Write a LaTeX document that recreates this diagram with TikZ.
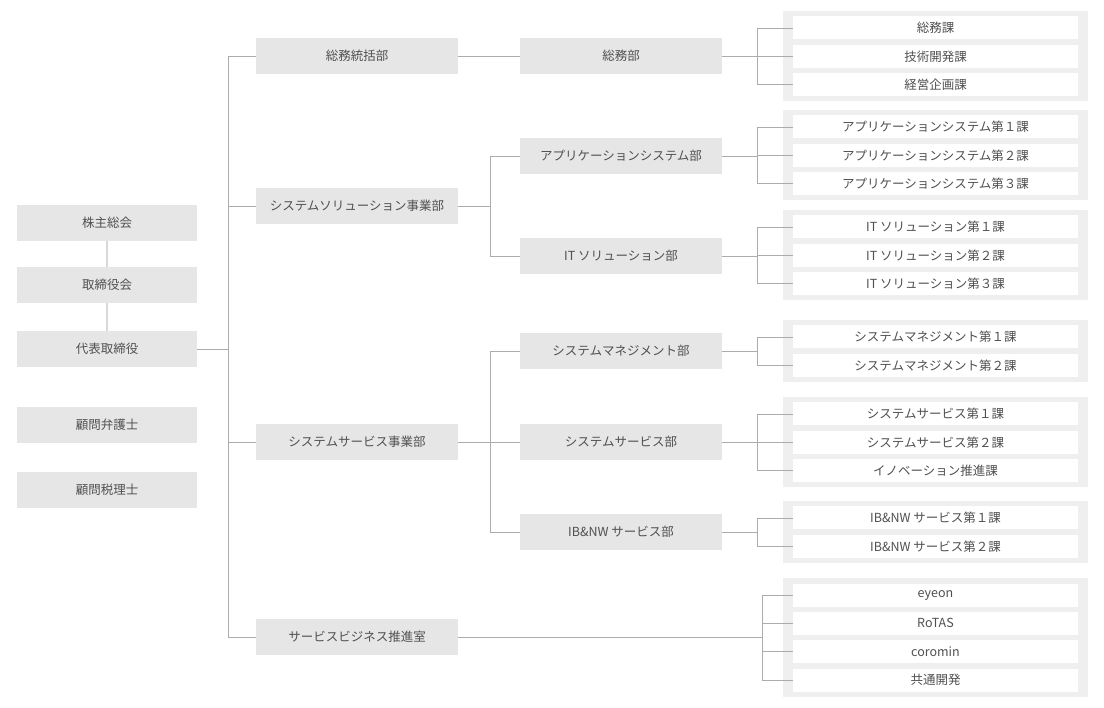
\documentclass[tikz,border=0pt]{standalone}
\usepackage{fontspec}
\setmainfont{Noto Sans CJK JP}
\usetikzlibrary{positioning,fit,backgrounds}
\definecolor{boxgray}{RGB}{230,230,230}
\definecolor{panelgray}{RGB}{239,239,239}
\definecolor{linegray}{RGB}{172,172,172}
\definecolor{stemgray}{RGB}{216,216,216}
\definecolor{textgray}{RGB}{80,80,80}
\newcommand{\orgfont}{\fontsize{12.5}{15}\selectfont}
\tikzset{
  topbox/.style={fill=boxgray,minimum width=180pt,minimum height=36pt,
    inner sep=0pt,text=textgray,font=\orgfont},
  deptbox/.style={topbox,minimum width=202pt},
  secbox/.style={fill=white,minimum width=285pt,minimum height=23pt,
    inner sep=0pt,text=textgray,font=\orgfont},
  secpanel/.style={fill=panelgray,inner xsep=10pt,inner ysep=5pt},
  orgline/.style={draw=linegray,line width=0.8pt},
  stemline/.style={draw=stemgray,line width=2pt},
}
\begin{document}
\begin{tikzpicture}[x=1pt,y=-1pt,node distance=5pt]
  \useasboundingbox (0,0) rectangle (1104,708);
  % top management
  \node[topbox] (agm) at (107,223) {株主総会};
  \node[topbox] (board) at (107,285) {取締役会};
  \node[topbox] (ceo) at (107,349) {代表取締役};
  \node[topbox] (lawyer) at (107,425) {顧問弁護士};
  \node[topbox] (taxadv) at (107,490) {顧問税理士};
  \draw[stemline] (agm) -- (board);
  \draw[stemline] (board) -- (ceo);

  % divisions
  \node[deptbox] (genhq) at (357,56) {総務統括部};
  \node[deptbox] (solhq) at (357,206) {システムソリューション事業部};
  \node[deptbox] (svchq) at (357,442) {システムサービス事業部};
  \node[deptbox] (bizoffice) at (357,637) {サービスビジネス推進室};

  % departments
  \node[deptbox] (genaff) at (621,56) {総務部};
  \node[deptbox] (appdept) at (621,156) {アプリケーションシステム部};
  \node[deptbox] (itdept) at (621,256) {IT ソリューション部};
  \node[deptbox] (mgmtdept) at (621,351) {システムマネジメント部};
  \node[deptbox] (svcdept) at (621,442) {システムサービス部};
  \node[deptbox] (ibdept) at (621,532) {IB\&NW サービス部};

  % sections
  \node[secbox] (gen1) at (935.5,28) {総務課};
  \node[secbox,below=of gen1] (gen2) {技術開発課};
  \node[secbox,below=of gen2] (gen3) {経営企画課};
  \node[secbox] (app1) at (935.5,127) {アプリケーションシステム第１課};
  \node[secbox,below=of app1] (app2) {アプリケーションシステム第２課};
  \node[secbox,below=of app2] (app3) {アプリケーションシステム第３課};
  \node[secbox] (it1) at (935.5,227) {IT ソリューション第１課};
  \node[secbox,below=of it1] (it2) {IT ソリューション第２課};
  \node[secbox,below=of it2] (it3) {IT ソリューション第３課};
  \node[secbox] (mgmt1) at (935.5,337) {システムマネジメント第１課};
  \node[secbox,below=of mgmt1] (mgmt2) {システムマネジメント第２課};
  \node[secbox] (svc1) at (935.5,414) {システムサービス第１課};
  \node[secbox,below=of svc1] (svc2) {システムサービス第２課};
  \node[secbox,below=of svc2] (svc3) {イノベーション推進課};
  \node[secbox] (ib1) at (935.5,518) {IB\&NW サービス第１課};
  \node[secbox,below=of ib1] (ib2) {IB\&NW サービス第２課};
  \node[secbox] (biz1) at (935.5,595) {eyeon};
  \node[secbox,below=of biz1] (biz2) {RoTAS};
  \node[secbox,below=of biz2] (biz3) {coromin};
  \node[secbox,below=of biz3] (biz4) {共通開発};

  \begin{scope}[on background layer]
    \node[secpanel,fit=(gen1)(gen3)] (genpanel) {};
    \node[secpanel,fit=(app1)(app3)] (apppanel) {};
    \node[secpanel,fit=(it1)(it3)] (itpanel) {};
    \node[secpanel,fit=(mgmt1)(mgmt2)] (mgmtpanel) {};
    \node[secpanel,fit=(svc1)(svc3)] (svcpanel) {};
    \node[secpanel,fit=(ib1)(ib2)] (ibpanel) {};
    \node[secpanel,fit=(biz1)(biz4)] (bizpanel) {};
  \end{scope}

  % connectors
  \draw[orgline] (ceo.east) -- ++(31,0) coordinate (trunk);
  \foreach \d in {genhq,solhq,svchq,bizoffice}
    \draw[orgline] (trunk) |- (\d.west);
  \draw[orgline] (genhq) -- (genaff);
  \draw[orgline] (solhq.east) -- ++(32,0) coordinate (solfork);
  \foreach \d in {appdept,itdept}
    \draw[orgline] (solfork) |- (\d.west);
  \draw[orgline] (svchq.east) -- ++(32,0) coordinate (svcfork);
  \foreach \d in {mgmtdept,svcdept,ibdept}
    \draw[orgline] (svcfork) |- (\d.west);

  \draw[orgline] (genaff.east) -- ++(35,0) coordinate (genfork);
  \foreach \s in {gen1,gen2,gen3}
    \draw[orgline] (genfork) |- (\s.west);
  \draw[orgline] (appdept.east) -- ++(35,0) coordinate (appfork);
  \foreach \s in {app1,app2,app3}
    \draw[orgline] (appfork) |- (\s.west);
  \draw[orgline] (itdept.east) -- ++(35,0) coordinate (itfork);
  \foreach \s in {it1,it2,it3}
    \draw[orgline] (itfork) |- (\s.west);
  \draw[orgline] (mgmtdept.east) -- ++(35,0) coordinate (mgmtfork);
  \foreach \s in {mgmt1,mgmt2}
    \draw[orgline] (mgmtfork) |- (\s.west);
  \draw[orgline] (svcdept.east) -- ++(35,0) coordinate (svcsecfork);
  \foreach \s in {svc1,svc2,svc3}
    \draw[orgline] (svcsecfork) |- (\s.west);
  \draw[orgline] (ibdept.east) -- ++(35,0) coordinate (ibfork);
  \foreach \s in {ib1,ib2}
    \draw[orgline] (ibfork) |- (\s.west);
  \draw[orgline] (bizoffice.east) -- ++(304,0) coordinate (bizfork);
  \foreach \s in {biz1,biz2,biz3,biz4}
    \draw[orgline] (bizfork) |- (\s.west);
\end{tikzpicture}
\end{document}
